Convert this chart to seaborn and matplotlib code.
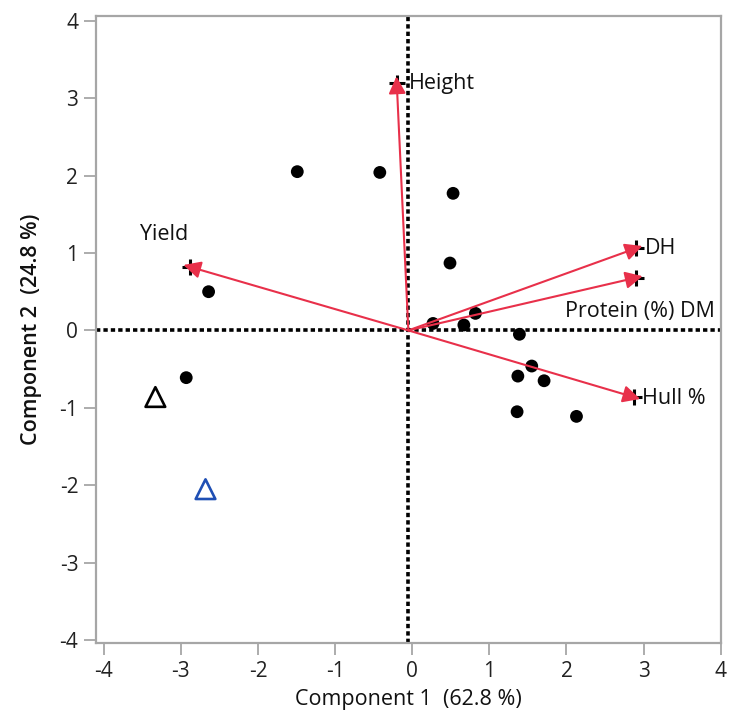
import matplotlib
matplotlib.use("Agg")
import matplotlib.pyplot as plt
import matplotlib.transforms as mtransforms
import seaborn as sns
import pandas as pd
import numpy as np

# ---- data ----
score_x = [-1.49, -0.42, 0.53, 0.49, -2.64, -2.93, 0.27, 0.67, 0.82,
           1.39, 1.55, 1.37, 1.71, 1.36, 2.13]
score_y = [2.05, 2.04, 1.77, 0.87, 0.50, -0.61, 0.09, 0.07, 0.22,
           -0.05, -0.46, -0.59, -0.65, -1.05, -1.11]

tri_black_x = [-3.33]
tri_black_y = [-0.86]
tri_blue_x = [-2.68]
tri_blue_y = [-2.05]

loading_names = ["Height", "DH", "Protein (%) DM", "Hull %", "Yield"]
loading_x = [-0.20, 2.90, 2.90, 2.87, -2.88]
loading_y = [3.19, 1.06, 0.68, -0.86, 0.82]

x_ticks = [-4, -3, -2, -1, 0, 1, 2, 3, 4]
y_ticks = [-4, -3, -2, -1, 0, 1, 2, 3, 4]
x_label = "Component 1  (62.8 %)"
y_label = "Component 2  (24.8 %)"

# ---- style ----
sns.set_theme(style="white")
plt.rcParams["font.family"] = ["Open Sans", "DejaVu Sans"]

RED = "#E8304A"
GREY = "#A6A6A6"
FS = 15.5

fig = plt.figure(figsize=(7.31, 7.17), dpi=100)
ax = fig.add_axes([0.1309, 0.1028, 0.8550, 0.8749])

origin = (-0.05, 0.0)

# reference lines
ax.axhline(origin[1], color="black", lw=2.6, ls=(0, (1.2, 0.85)), zorder=1)
ax.axvline(origin[0], color="black", lw=2.6, ls=(0, (1.2, 0.85)), zorder=1)

scores = pd.DataFrame({"x": score_x, "y": score_y})
sns.scatterplot(data=scores, x="x", y="y", ax=ax, color="black", s=85,
                edgecolor="none", zorder=3, legend=False)

sns.scatterplot(x=tri_black_x, y=tri_black_y, ax=ax, marker="^", s=200,
                facecolor="none", edgecolor="black", linewidth=1.9, zorder=3)
sns.scatterplot(x=tri_blue_x, y=tri_blue_y, ax=ax, marker="^", s=200,
                facecolor="none", edgecolor="#1F4FB4", linewidth=1.9, zorder=3)

ax.set_xlim(-4.104, 4.0)
ax.set_ylim(-4.04, 4.06)

# loading arrows (head tip slightly beyond the loading marker)
EXT = 5.0  # points
for lx, ly in zip(loading_x, loading_y):
    v = np.array([lx - origin[0], ly - origin[1]])
    u = v / np.hypot(*v)
    tr = mtransforms.offset_copy(ax.transData, fig=fig, x=u[0] * EXT,
                                 y=u[1] * EXT, units="points")
    ax.annotate("", xy=(lx, ly), xycoords=tr, xytext=origin,
                textcoords="data",
                arrowprops=dict(arrowstyle="-|>", color=RED, lw=1.5,
                                mutation_scale=26, shrinkA=0, shrinkB=0),
                zorder=4)
ax.plot(loading_x, loading_y, ls="none", marker="+", ms=12, mew=2.2,
        color="black", zorder=3.5)

# label offsets (points)
offsets = {
    "Height": (9, 0, "left", "center"),
    "DH": (6.5, 0, "left", "center"),
    "Protein (%) DM": (57, -24, "right", "center"),
    "Hull %": (6, -1, "left", "center"),
    "Yield": (-1.5, 23, "right", "center"),
}
for name, lx, ly in zip(loading_names, loading_x, loading_y):
    dx, dy, ha, va = offsets[name]
    ax.annotate(name, xy=(lx, ly), xytext=(dx, dy), textcoords="offset points",
                ha=ha, va=va, fontsize=FS, color="#111111", zorder=6)

ax.set_xticks(x_ticks)
ax.set_yticks(y_ticks)
ax.set_xticklabels([str(t) for t in x_ticks])
ax.set_yticklabels([str(t) for t in y_ticks])

for sp in ax.spines.values():
    sp.set_color(GREY)
    sp.set_linewidth(1.6)
    sp.set_visible(True)

ax.tick_params(axis="both", which="major", direction="out", length=8.5,
               width=1.3, color=GREY, labelsize=15, labelcolor="#222222", pad=4,
               left=True, bottom=True)
for t, tick in zip(x_ticks, ax.xaxis.get_major_ticks()):
    if t == 0:
        tick.tick1line.set_color(RED)
for t, tick in zip(y_ticks, ax.yaxis.get_major_ticks()):
    if t == 0:
        tick.tick1line.set_color(RED)

ax.set_xlabel(x_label, fontsize=FS, color="#111111", labelpad=5)
ax.set_ylabel(y_label, fontsize=FS, color="#111111", labelpad=13,
              fontweight="semibold")

fig.savefig("out.png", dpi=100)
